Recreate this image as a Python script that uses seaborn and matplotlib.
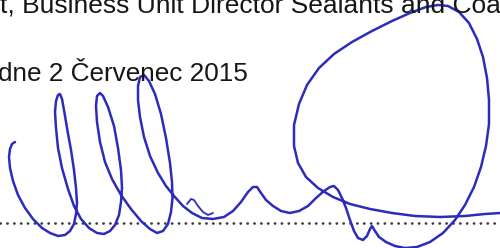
import matplotlib
matplotlib.use("Agg")
import matplotlib.pyplot as plt
import seaborn as sns

# ==============================
# Data: text lines, signature stroke, dotted rule
# ==============================
line1_text = "t, Business Unit Director Sealants and Coatings"
line2_text = "dne 2 Červenec 2015"

sig_x = [15, 12, 10, 9, 10, 13, 18, 25, 33, 42, 50, 58, 65, 70, 74, 76, 77, 76, 74, 71,
         67, 64, 62, 60, 58, 56, 55, 56, 58, 62, 68, 74, 81, 89, 97, 104, 110, 115, 119, 121,
         122, 121, 118, 114, 108, 103, 100, 97, 96, 97, 100, 105, 112, 121, 131, 141, 150, 157, 163, 168,
         171, 172.5, 172, 170, 166, 161, 155, 149, 144, 140, 138, 138, 140, 144, 150, 158, 166, 174, 183, 192,
         202, 213, 224, 233, 241, 248, 253, 257, 261, 266, 273, 281, 290, 299, 308, 316, 324, 330, 334, 338,
         342, 346, 350, 354, 358, 363, 367, 370, 372, 375, 379, 386, 395, 405, 417, 430, 443, 455, 465, 474,
         481, 486, 489, 489, 487, 483, 477, 469, 459, 448, 438, 426, 410, 392, 372, 352, 334, 319, 307, 299,
         294, 294, 298, 306, 318, 333, 350, 370, 392, 415, 440, 465, 485, 500]
sig_y = [142, 144, 149, 157, 168, 181, 195, 208, 219, 228, 233, 236, 235, 231, 224, 214, 203, 188, 170, 150,
         128, 110, 99, 94, 95, 101, 112, 128, 148, 168, 189, 206, 219, 228, 233, 234, 231, 225, 215, 202,
         188, 170, 148, 126, 107, 96, 93, 96, 106, 122, 142, 162, 179, 195, 209, 221, 229, 233, 231, 224,
         212, 198, 182, 163, 138, 114, 94, 81, 75, 77, 86, 100, 117, 137, 156, 173, 186, 196, 206, 213,
         218, 219, 217, 211, 202, 192, 187, 187, 193, 200, 206, 211, 213, 211, 206, 198, 191, 187, 186, 190,
         198, 208, 220, 231, 238, 240, 236, 229, 226, 231, 237, 242, 246, 248, 247, 242, 233, 220, 205, 187,
         167, 146, 124, 100, 78, 57, 39, 23, 12, 6, 5, 7, 13, 21, 31, 42, 54, 68, 85, 104,
         125, 146, 163, 177, 188, 197, 204, 209, 213, 216, 217, 216, 214, 213]

hook_x = [187, 191, 194, 198, 203, 208, 213]
hook_y = [204, 199, 200, 206, 212, 215, 213]

rule_x = [0, 500]
rule_y = [223, 223]

# ==============================
# Figure
# ==============================
sns.set_style("white")
plt.rcParams["font.family"] = ["Liberation Sans", "DejaVu Sans"]

fig = plt.figure(figsize=(5, 2.48), dpi=100)
ax = fig.add_axes([0, 0, 1, 1])

ax.text(0.5, 13, line1_text, fontsize=19, color="#161616", va="baseline", ha="left")
ax.text(-1.8, 81, line2_text, fontsize=18.8, color="#161616", va="baseline", ha="left")

# dotted signature rule (dash pattern scales with lw)
sns.lineplot(x=rule_x, y=rule_y, ax=ax, color="#3a3a3a", lw=1.9,
             linestyle=(0, (0.1, 2.5)), dash_capstyle="round")

sns.lineplot(x=sig_x, y=sig_y, ax=ax, sort=False, estimator=None,
             color="#2c2cbc", lw=1.8)
sns.lineplot(x=hook_x, y=hook_y, ax=ax, sort=False, estimator=None,
             color="#2c2cbc", lw=1.3)

ax.set_xlim(0, 500)
ax.set_ylim(248, 0)
ax.set_axis_off()

fig.savefig("out.png", dpi=100)
